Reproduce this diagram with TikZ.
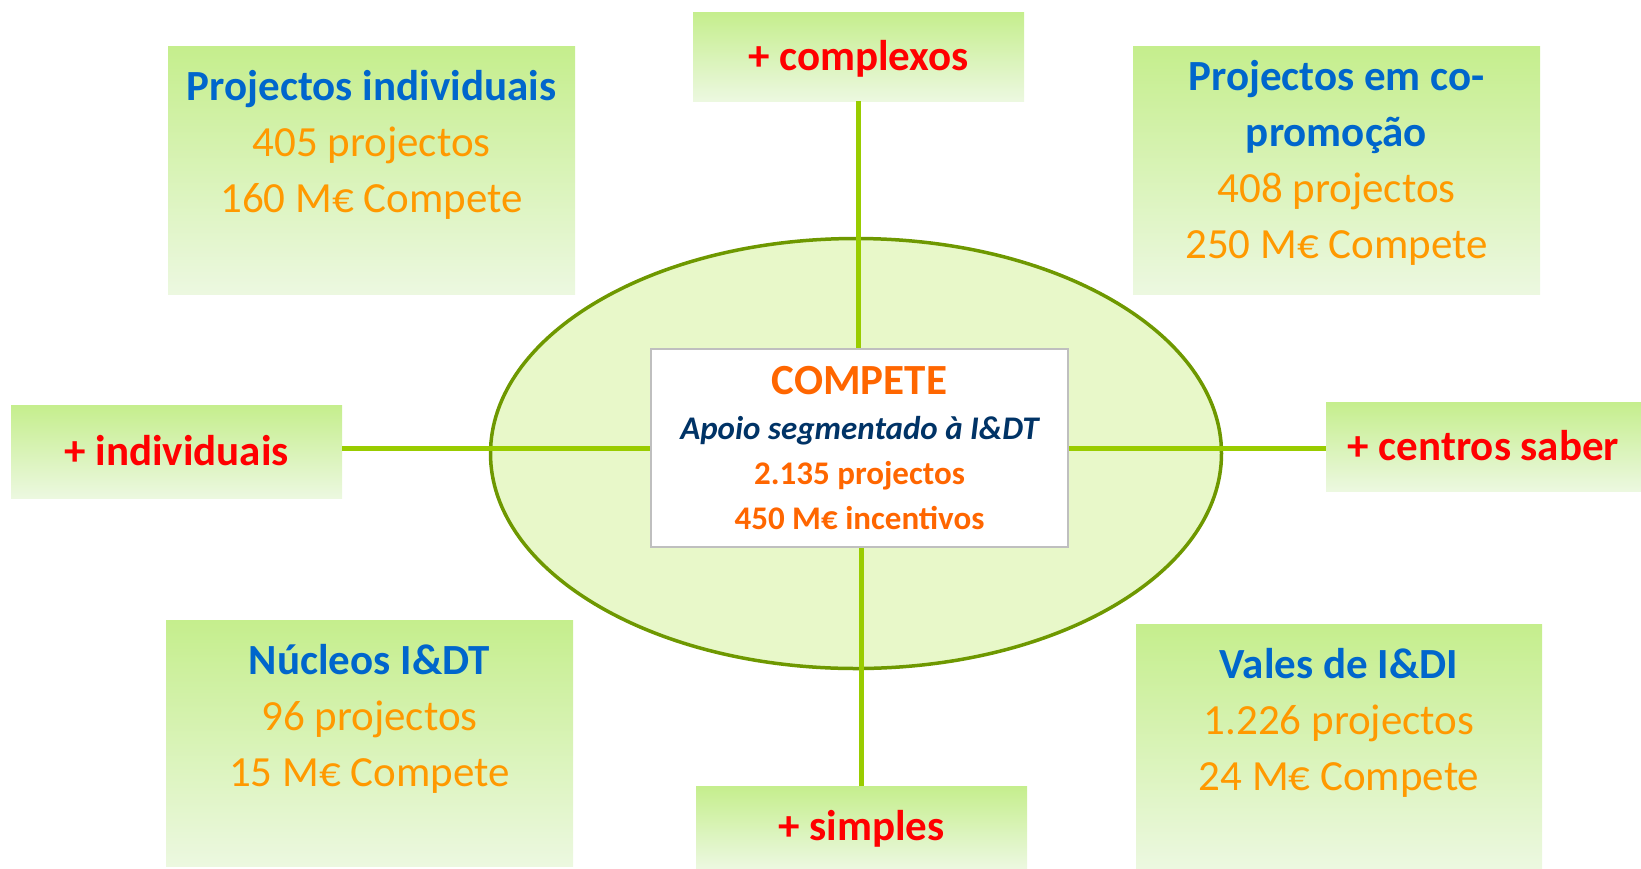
\documentclass[tikz,border=0pt]{standalone}
\usepackage{fontspec}
\setmainfont{Carlito}
\usetikzlibrary{shapes.geometric}
\definecolor{boxTop}{HTML}{C5EE8D}
\definecolor{boxBottom}{HTML}{ECF8E0}
\definecolor{hubFill}{HTML}{E8F8C9}
\definecolor{hubEdge}{HTML}{6E9800}
\definecolor{linkGreen}{HTML}{99CC00}
\definecolor{coreEdge}{HTML}{BFBFBF}
\definecolor{titleBlue}{HTML}{0066CC}
\definecolor{numOrange}{HTML}{FF9900}
\definecolor{coreOrange}{HTML}{FF6600}
\definecolor{coreNavy}{HTML}{003366}
\definecolor{tagRed}{HTML}{FF0000}
\begin{document}
\begin{tikzpicture}[x=1pt, y=-1pt,
    greenBox/.style={rectangle, top color=boxTop, bottom color=boxBottom, draw=none, inner sep=0pt, outer sep=0pt},
    bigBox/.style={greenBox, minimum width=407pt, minimum height=248pt},
    tagBox/.style={greenBox, minimum width=331pt, minimum height=89pt, text=tagRed, font=\fontsize{43}{52}\selectfont\bfseries, text height=30pt, text depth=3pt},
    infoText/.style={anchor=base, align=center, inner sep=0pt, text=numOrange, font=\fontsize{43}{56}\selectfont},
    hubStyle/.style={ellipse, fill=hubFill, draw=hubEdge, line width=3.5pt, minimum width=731pt, minimum height=430pt, inner sep=0pt},
    coreStyle/.style={rectangle, fill=white, draw=coreEdge, line width=2pt, minimum width=417pt, minimum height=198pt},
    coreText/.style={anchor=base, align=center, inner sep=0pt, text=coreOrange, font=\fontsize{33}{45}\selectfont\bfseries},
    linkStyle/.style={draw=linkGreen, line width=5pt}]
    \useasboundingbox (0,0) rectangle (1641,868);

    \node[bigBox] (indiv)   at ( 371.5, 170) {};
    \node[bigBox] (copro)   at (1336.5, 170) {};
    \node[bigBox, minimum height=246pt] (nucleos) at ( 369.5, 743) {};
    \node[bigBox, minimum width=406pt, minimum height=244pt] (vales) at (1339, 746) {};

    \node[infoText] (indivTxt)   at ( 371.5, 212) {\textcolor{titleBlue}{\bfseries Projectos individuais}\\405 projectos\\160 M€ Compete};
    \node[infoText] (coproTxt)   at (1336.5, 258) {\textcolor{titleBlue}{\bfseries Projectos em co-}\\\textcolor{titleBlue}{\bfseries promoção}\\408 projectos\\250 M€ Compete};
    \node[infoText] (nucleosTxt) at ( 369.5, 786) {\textcolor{titleBlue}{\bfseries Núcleos I\&DT}\\96 projectos\\15 M€ Compete};
    \node[infoText] (valesTxt)   at (1339,   790) {\textcolor{titleBlue}{\bfseries Vales de I\&DI}\\1.226 projectos\\24 M€ Compete};

    \node[tagBox] (complexos)   at ( 858.5,  56.5) {+ complexos};
    \node[tagBox, minimum height=93pt] (individuais) at ( 176.5, 451.5) {+ individuais};
    \node[tagBox, minimum width=315pt] (saber) at (1483.5, 446.5) {+ centros saber};
    \node[tagBox, minimum height=82pt] (simples) at ( 861.5, 827) {+ simples};

    \node[hubStyle] (hub) at (856, 453.5) {};

    \node[coreStyle] (core) at (859.5, 448) {};

    \draw[linkStyle] (complexos.south) -- (complexos.south |- core.north);
    \draw[linkStyle] (simples.north) -- (simples.north |- core.south);
    \draw[linkStyle] (core.west) -- (core.west -| individuais.east);
    \draw[linkStyle] (core.east) -- (core.east -| saber.west);

    \node[coreStyle, fill=none] (coreFrame) at (core) {};
    \node[coreText] (coreTxt) at (859.5, 529) {{\fontsize{43}{45}\selectfont COMPETE}\\\textcolor{coreNavy}{\itshape Apoio segmentado à I\&DT}\\2.135 projectos\\450 M€ incentivos};
\end{tikzpicture}
\end{document}
